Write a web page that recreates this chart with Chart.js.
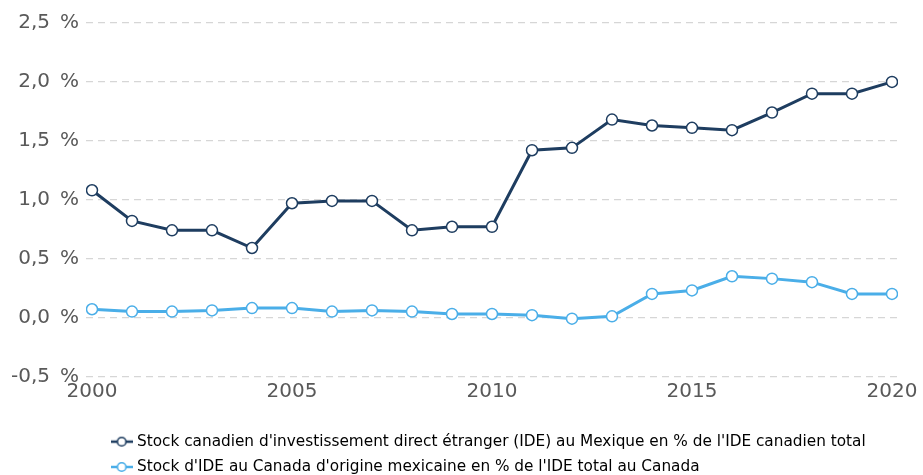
<!DOCTYPE html>
<html>
<head>
<meta charset="utf-8">
<script src="https://cdn.jsdelivr.net/npm/chart.js@4.4.0/dist/chart.umd.min.js"></script>
<style>
  html, body { margin: 0; padding: 0; background: #fff; }
  #wrap { width: 923px; height: 475px; }
</style>
</head>
<body>
<div id="wrap"><canvas id="myChart"></canvas></div>
<script>
// data
var years = [2000, 2001, 2002, 2003, 2004, 2005, 2006, 2007, 2008, 2009, 2010,
             2011, 2012, 2013, 2014, 2015, 2016, 2017, 2018, 2019, 2020];
var canInMexico = [1.08, 0.82, 0.74, 0.74, 0.59, 0.97, 0.99, 0.99, 0.74, 0.77, 0.77,
                   1.42, 1.44, 1.68, 1.63, 1.61, 1.59, 1.74, 1.90, 1.90, 2.00];
var mexInCanada = [0.07, 0.05, 0.05, 0.06, 0.08, 0.08, 0.05, 0.06, 0.05, 0.03, 0.03,
                   0.02, -0.01, 0.01, 0.20, 0.23, 0.35, 0.33, 0.30, 0.20, 0.20];
var xTicks = [2000, 2005, 2010, 2015, 2020];
var seriesNames = [
    "Stock canadien d'investissement direct étranger (IDE) au Mexique en % de l'IDE canadien total",
    "Stock d'IDE au Canada d'origine mexicaine en % de l'IDE total au Canada"
];

var darkBlue = '#1e3d60';
var lightBlue = '#4aaee8';
var fontFamily = '"DejaVu Sans", Verdana, sans-serif';

// little line-circle-line symbol for the legend
function legendMarker(color) {
    var c = document.createElement('canvas');
    c.width = 22; c.height = 12;
    var g = c.getContext('2d');
    g.strokeStyle = color;
    g.lineWidth = 2.5;
    g.beginPath(); g.moveTo(0, 6); g.lineTo(22, 6); g.stroke();
    g.fillStyle = '#fff';
    g.lineWidth = 1.6;
    g.beginPath(); g.arc(11, 6, 4.3, 0, Math.PI * 2); g.fill(); g.stroke();
    return c;
}

function toPoints(vals) {
    return vals.map(function (v, i) { return { x: years[i], y: v }; });
}

var legendShift = {
    id: 'legendShift',
    afterLayout: function (chart) {
        var lg = chart.legend;
        lg.left = 104;
        lg.top = 424;
    }
};

var ctx = document.getElementById('myChart').getContext('2d');
var myChart = new Chart(ctx, {
    type: 'line',
    data: {
        datasets: [{
            label: seriesNames[0],
            data: toPoints(canInMexico),
            borderColor: darkBlue,
            backgroundColor: '#fff',
            borderWidth: 3,
            pointRadius: 5.5,
            pointBorderWidth: 1.5,
            pointBackgroundColor: '#fff',
            pointBorderColor: darkBlue,
            tension: 0
        }, {
            label: seriesNames[1],
            data: toPoints(mexInCanada),
            borderColor: lightBlue,
            backgroundColor: '#fff',
            borderWidth: 3,
            pointRadius: 5.5,
            pointBorderWidth: 1.5,
            pointBackgroundColor: '#fff',
            pointBorderColor: lightBlue,
            tension: 0
        }]
    },
    options: {
        responsive: true,
        maintainAspectRatio: false,
        animation: false,
        layout: { padding: { top: 23, right: 25, bottom: 0, left: 0 } },
        scales: {
            x: {
                type: 'linear',
                min: 1999.85,
                max: 2020.15,
                afterBuildTicks: function (s) {
                    s.ticks = xTicks.map(function (v) { return { value: v }; });
                },
                afterFit: function (s) { s.height = 38; },
                grid: { display: false, drawTicks: false },
                border: { display: false },
                ticks: {
                    color: '#595959',
                    font: { family: fontFamily, size: 20 },
                    padding: 3,
                    maxRotation: 0,
                    callback: function (v) { return String(v); }
                }
            },
            y: {
                min: -0.5,
                max: 2.5,
                afterFit: function (s) { s.width = 86; },
                grid: { color: '#d6d6d6', lineWidth: 1.3, drawTicks: false },
                border: { display: false, dash: [7, 5] },
                ticks: {
                    stepSize: 0.5,
                    color: '#595959',
                    font: { family: fontFamily, size: 20 },
                    padding: 7,
                    callback: function (v) {
                        return v.toFixed(1).replace('.', ',') + '\u2002%';
                    }
                }
            }
        },
        plugins: {
            legend: {
                position: 'bottom',
                align: 'start',
                labels: {
                    color: '#444',
                    font: { family: fontFamily, size: 15.3 },
                    usePointStyle: true,
                    padding: 10,
                    generateLabels: function (chart) {
                        return chart.data.datasets.map(function (ds, i) {
                            return {
                                text: ds.label,
                                pointStyle: legendMarker(ds.borderColor),
                                fillStyle: '#fff',
                                strokeStyle: ds.borderColor,
                                lineWidth: 0,
                                hidden: false,
                                datasetIndex: i
                            };
                        });
                    }
                }
            },
            tooltip: { enabled: false }
        }
    },
    plugins: [legendShift]
});
</script>
</body>
</html>
